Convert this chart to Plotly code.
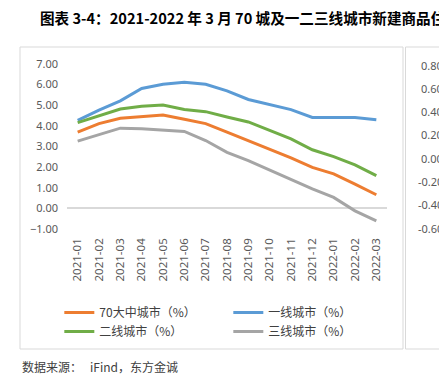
import plotly.graph_objects as go

months = ["2021-01", "2021-02", "2021-03", "2021-04", "2021-05", "2021-06", "2021-07",
          "2021-08", "2021-09", "2021-10", "2021-11", "2021-12", "2022-01", "2022-02", "2022-03"]

city70 = [3.70, 4.11, 4.37, 4.46, 4.53, 4.32, 4.11, 3.70, 3.29, 2.89, 2.45, 1.99, 1.67, 1.18, 0.66]
tier1 = [4.27, 4.76, 5.21, 5.81, 6.02, 6.12, 6.02, 5.70, 5.28, 5.03, 4.79, 4.41, 4.41, 4.41, 4.30]
tier2 = [4.16, 4.50, 4.82, 4.95, 5.01, 4.79, 4.69, 4.43, 4.19, 3.78, 3.37, 2.84, 2.51, 2.11, 1.59]
tier3 = [3.26, 3.59, 3.89, 3.86, 3.81, 3.73, 3.29, 2.72, 2.32, 1.86, 1.42, 0.94, 0.53, -0.12, -0.61]

series_names = ["70大中城市（%）", "一线城市（%）", "二线城市（%）", "三线城市（%）"]
series_colors = ["#ED7D31", "#5B9BD5", "#70AD47", "#A5A5A5"]

left_ticks = [-1, 0, 1, 2, 3, 4, 5, 6, 7]
right_ticks = [-0.6, -0.4, -0.2, 0.0, 0.2, 0.4, 0.6, 0.8]

title_text = "图表 3-4：2021-2022 年 3 月 70 城及一二三线城市新建商品住宅价格同比增速"
source_text = "数据来源：   iFind，东方金诚"

fig = go.Figure()
for name, vals, col in zip(series_names, [city70, tier1, tier2, tier3], series_colors):
    fig.add_trace(go.Scatter(x=months, y=vals, name=name, mode="lines",
                             line=dict(color=col, width=3)))

tickfont = dict(family="Noto Sans, DejaVu Sans, sans-serif", size=11, color="#595959")
xtickfont = dict(family="Noto Sans, DejaVu Sans, sans-serif", size=11.5, color="#595959")

# right-hand (partially visible) panel axis labels, right aligned
right_labels = [
    dict(text=f"{v:.2f}", xref="paper", yref="y2", x=(444.5 - 67) / 320, y=v,
         xanchor="right", yanchor="middle", showarrow=False, font=tickfont)
    for v in right_ticks
]

box_top = 1 + (64 - 47) / 165
box_bot = -(349 - 229) / 165

# page has an 8px body margin; figure is sized/offset to compensate
fig.update_layout(
    width=439, height=373,
    margin=dict(l=59, r=60, t=56, b=152, autoexpand=False),
    paper_bgcolor="white", plot_bgcolor="white",
    showlegend=True,
    legend=dict(orientation="h", x=-0.024, xanchor="left", y=-0.418, yanchor="top",
                entrywidth=124, entrywidthmode="pixels", tracegroupgap=0,
                font=dict(family="Noto Sans CJK SC, sans-serif", size=12, color="#404040"),
                itemwidth=30, bgcolor="rgba(0,0,0,0)"),
    xaxis=dict(type="category", tickangle=-90, showgrid=False, showline=False,
               ticks="", tickfont=xtickfont, ticklabelstandoff=6, range=[-0.5, 14.5],
               automargin=False),
    yaxis=dict(range=[-1, 7], tickvals=left_ticks, tickformat=".2f", showgrid=False,
               zeroline=True, zerolinecolor="#D9D9D9", zerolinewidth=1.5,
               showline=False, ticks="", tickfont=tickfont, ticklabelstandoff=8,
               automargin=False),
    yaxis2=dict(overlaying="y", side="right", anchor="free", position=1,
                range=[-0.606, 0.8086], showticklabels=False,
                showgrid=False, zeroline=False, showline=False, ticks="",
                automargin=False),
    shapes=[
        dict(type="rect", xref="paper", yref="paper",
             x0=(20 - 67) / 320, x1=(403 - 67) / 320, y0=box_bot, y1=box_top,
             line=dict(color="#D9D9D9", width=1), layer="below"),
        dict(type="rect", xref="paper", yref="paper",
             x0=(405.5 - 67) / 320, x1=(470 - 67) / 320, y0=box_bot, y1=box_top,
             line=dict(color="#D9D9D9", width=1), layer="below"),
    ],
    annotations=[
        dict(text="<b>" + title_text + "</b>", xref="paper", yref="paper",
             x=(38 - 67) / 320, y=1 + (64 - 5) / 165, xanchor="left", yanchor="top",
             showarrow=False, align="left",
             font=dict(family="Noto Sans CJK SC, sans-serif", size=14.6, color="#000000")),
        dict(text=source_text, xref="paper", yref="paper",
             x=(20 - 67) / 320, y=-(356 - 229) / 165, xanchor="left", yanchor="top",
             showarrow=False,
             font=dict(family="Noto Sans CJK SC, sans-serif", size=12, color="#404040")),
    ] + right_labels,
)
# invisible anchor so yaxis2 exists
fig.add_trace(go.Scatter(x=[months[0]], y=[None], yaxis="y2", showlegend=False,
                         hoverinfo="skip", mode="lines"))

fig.write_html("out.html")
